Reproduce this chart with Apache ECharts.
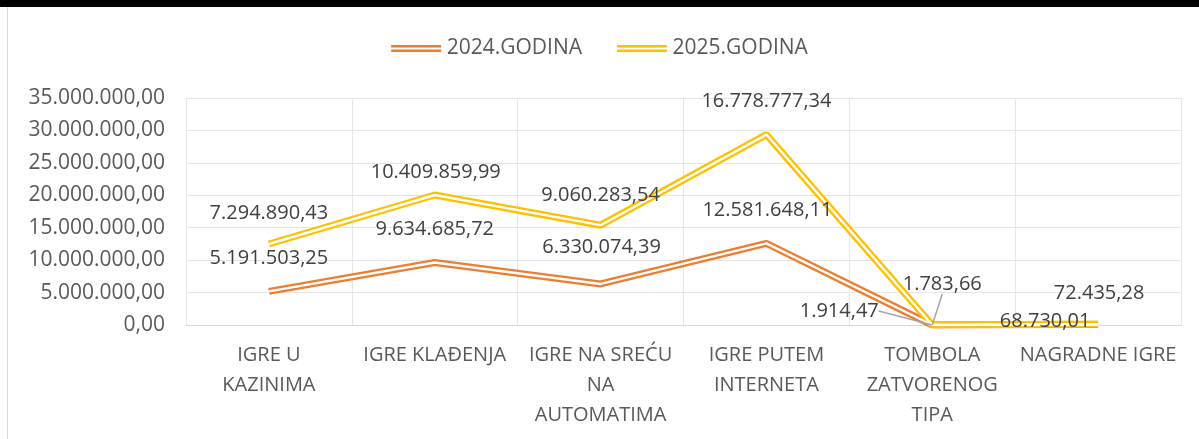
<!DOCTYPE html>
<html>
<head>
<meta charset="utf-8">
<script src="https://cdn.jsdelivr.net/npm/echarts@6/dist/echarts.min.js"></script>
<style>
  html, body { margin: 0; padding: 0; background: #fff; }
  #chart { width: 1199px; height: 439px; }
</style>
</head>
<body>
<div id="chart"></div>
<script>
// kategorije i vrijednosti
var categories = [
  "IGRE U\nKAZINIMA",
  "IGRE KLAĐENJA",
  "IGRE NA SREĆU\nNA\nAUTOMATIMA",
  "IGRE PUTEM\nINTERNETA",
  "TOMBOLA\nZATVORENOG\nTIPA",
  "NAGRADNE IGRE"
];
var values2024 = [5191503.25, 9634685.72, 6330074.39, 12581648.11, 1914.47, 68730.01];
var values2025 = [7294890.43, 10409859.99, 9060283.54, 16778777.34, 1783.66, 72435.28];
var yTicks = { min: 0, max: 35000000, interval: 5000000 };

// pomaci oznaka (dx, dy) od tocke
var labelOffsets = [
  [[0, -33], [0, -33], [1, -37], [1, -33], [-93, -14], [-53, -3]],
  [[0, -31], [1, -23], [0, -30], [0, -33], [10, -41], [1, -31]]
];

function fmt(v) {
  var parts = Number(v).toFixed(2).split(".");
  return parts[0].replace(/\B(?=(\d{3})+(?!\d))/g, ".") + "," + parts[1];
}

var FONT = "Open Sans";
var ORANGE = "#ED7D31";
var YELLOW = "#FFC000";

function withLeader(arr) {
  return arr.map(function (v, i) {
    return i === 4 ? { value: v, labelLine: { show: true } } : v;
  });
}

var chart = echarts.init(document.getElementById("chart"));

chart.setOption({
  animation: false,
  textStyle: { fontFamily: FONT },
  graphic: [
    { type: "rect", shape: { x: 0, y: 0, width: 1199, height: 7 }, style: { fill: "#000" } },
    { type: "line", shape: { x1: 7.5, y1: 7, x2: 7.5, y2: 439 }, style: { stroke: "#d9d9d9", lineWidth: 1 } }
  ],
  legend: {
    data: ["2024.GODINA", "2025.GODINA"],
    top: 33,
    left: "center",
    itemGap: 35,
    itemWidth: 51,
    itemHeight: 7,
    icon: "path://M0,0H50V2.4H0Z M0,4.6H50V7H0Z",
    textStyle: { fontFamily: FONT, fontSize: 21, color: "#595959" }
  },
  grid: { left: 186, right: 18, top: 98, bottom: 114 },
  xAxis: {
    type: "category",
    data: categories,
    boundaryGap: true,
    axisTick: { show: false },
    axisLine: { lineStyle: { color: "#d9d9d9", width: 1 } },
    splitLine: { show: true, lineStyle: { color: "#e6e6e6", width: 1 } },
    axisLabel: {
      interval: 0,
      margin: 15,
      fontFamily: FONT,
      fontSize: 20,
      lineHeight: 30,
      color: "#595959"
    }
  },
  yAxis: {
    type: "value",
    min: yTicks.min,
    max: yTicks.max,
    interval: yTicks.interval,
    axisLine: { show: false },
    axisTick: { show: false },
    splitLine: { lineStyle: { color: "#e6e6e6", width: 1 } },
    axisLabel: {
      margin: 21,
      fontFamily: FONT,
      fontSize: 21,
      color: "#595959",
      formatter: fmt
    }
  },
  series: [
    {
      name: "2024.GODINA", type: "line", stack: "outer", data: values2024,
      color: ORANGE, symbol: "none", silent: true, z: 2,
      lineStyle: { color: ORANGE, width: 7 }
    },
    {
      name: "2025.GODINA", type: "line", stack: "outer", data: values2025,
      color: YELLOW, symbol: "none", silent: true, z: 2,
      lineStyle: { color: YELLOW, width: 7 }
    },
    {
      name: "inner2024", type: "line", stack: "inner", data: withLeader(values2024),
      symbol: "circle", symbolSize: 0.1, silent: true, z: 3,
      itemStyle: { color: "#fff" },
      lineStyle: { color: "#fff", width: 2.4 },
      label: {
        show: true, position: "inside", fontFamily: FONT, fontSize: 20, color: "#404040",
        formatter: function (p) { return fmt(p.value); }
      },
      labelLine: { show: false, lineStyle: { color: "#a6a6a6", width: 1.5 } },
      labelLayout: function (p) {
        var o = labelOffsets[0][p.dataIndex];
        return { dx: o[0], dy: o[1] };
      }
    },
    {
      name: "inner2025", type: "line", stack: "inner", data: withLeader(values2025),
      symbol: "circle", symbolSize: 0.1, silent: true, z: 3,
      itemStyle: { color: "#fff" },
      lineStyle: { color: "#fff", width: 2.4 },
      label: {
        show: true, position: "inside", fontFamily: FONT, fontSize: 20, color: "#404040",
        formatter: function (p) { return fmt(p.value); }
      },
      labelLine: { show: false, lineStyle: { color: "#a6a6a6", width: 1.5 } },
      labelLayout: function (p) {
        var o = labelOffsets[1][p.dataIndex];
        return { dx: o[0], dy: o[1] };
      }
    }
  ]
});
</script>
</body>
</html>
